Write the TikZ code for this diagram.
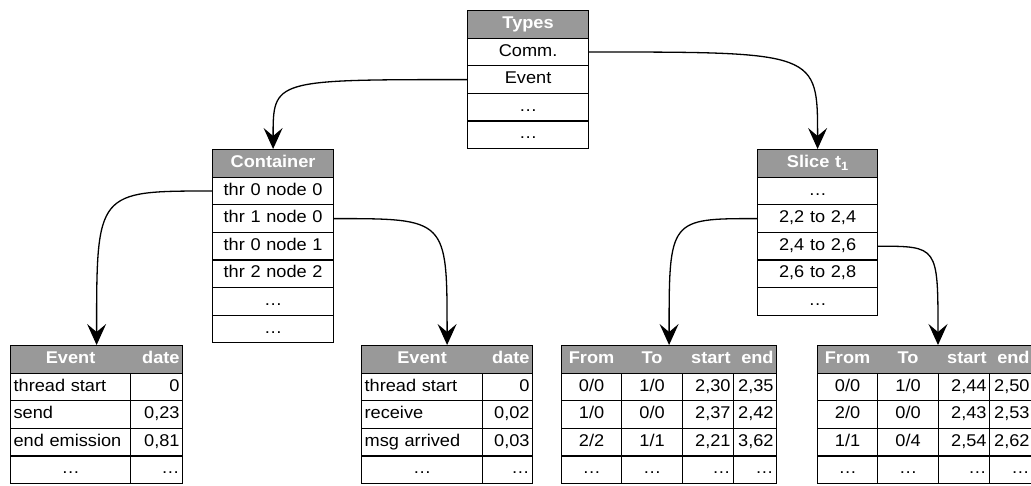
\documentclass[tikz,border=0pt]{standalone}
\usepackage{fontspec}
\setmainfont{Liberation Sans}[FakeStretch=1.07]
\usetikzlibrary{arrows.meta}
\definecolor{hdr}{RGB}{153,153,153}
\tikzset{
  base/.style={font=\fontsize{17}{20}\selectfont, text height=12pt, text depth=4pt,
    inner ysep=0pt, inner xsep=3pt, anchor=north west, line width=1.2pt, minimum height=27.6pt},
  cc/.style={base, draw=black, fill=white, align=center},
  cl/.style={base, draw=black, fill=white, align=left},
  cr/.style={base, draw=black, fill=white, align=right},
  hc/.style={base, draw=black, fill=hdr, text=white, align=center, font=\fontsize{17}{20}\selectfont\bfseries},
  htc/.style={base, text=white, align=center, font=\fontsize{17}{20}\selectfont\bfseries},
  htr/.style={base, text=white, align=right, font=\fontsize{17}{20}\selectfont\bfseries},
  conn/.style={line width=1.3pt, -{Stealth[length=21pt,width=19pt,inset=8pt]}},
}
% style, name, x, y, width, text
\newcommand\cellat[6]{\pgfmathsetmacro\mytw{#5-6}\node[#1, minimum width=#5pt, text width=\mytw pt] (#2) at (#3,#4) {#6};}
\begin{document}
\begin{tikzpicture}[x=1pt,y=-1pt]
\useasboundingbox (0,0) rectangle (1031,485);
\clip (0,0) rectangle (1031,485);
% Types
\cellat{hc}{ty0}{467}{10}{121}{Types}
\cellat{cc}{ty1}{467}{37.6}{121}{Comm.}
\cellat{cc}{ty2}{467}{65.2}{121}{Event}
\cellat{cc}{ty3}{467}{92.8}{121}{…}
\cellat{cc}{ty4}{467}{120.4}{121}{…}
% Container
\cellat{hc}{co0}{212}{149}{121}{Container}
\cellat{cc}{co1}{212}{176.6}{121}{thr 0 node 0}
\cellat{cc}{co2}{212}{204.2}{121}{thr 1 node 0}
\cellat{cc}{co3}{212}{231.8}{121}{thr 0 node 1}
\cellat{cc}{co4}{212}{259.4}{121}{thr 2 node 2}
\cellat{cc}{co5}{212}{287}{121}{…}
\cellat{cc}{co6}{212}{314.6}{121}{…}
% Slice
\cellat{hc}{sl0}{757}{149}{120}{Slice t\raisebox{-3.5pt}{\fontsize{12}{12}\selectfont 1}}
\cellat{cc}{sl1}{757}{176.6}{120}{…}
\cellat{cc}{sl2}{757}{204.2}{120}{2,2 to 2,4}
\cellat{cc}{sl3}{757}{231.8}{120}{2,4 to 2,6}
\cellat{cc}{sl4}{757}{259.4}{120}{2,6 to 2,8}
\cellat{cc}{sl5}{757}{287}{120}{…}
% Table A
\cellat{hc}{ta0}{10}{345}{172}{}
\cellat{htc}{ta01}{10}{345}{120}{Event}
\cellat{htr}{ta02}{130}{345}{52}{date}
\cellat{cl}{ta11}{10}{372.6}{120}{thread start}
\cellat{cr}{ta12}{130}{372.6}{52}{0}
\cellat{cl}{ta21}{10}{400.2}{120}{send}
\cellat{cr}{ta22}{130}{400.2}{52}{0,23}
\cellat{cl}{ta31}{10}{427.8}{120}{end emission}
\cellat{cr}{ta32}{130}{427.8}{52}{0,81}
\cellat{cc}{ta41}{10}{455.4}{120}{…}
\cellat{cr}{ta42}{130}{455.4}{52}{…}
% Table B
\cellat{hc}{tb0}{361}{345}{171}{}
\cellat{htc}{tb01}{361}{345}{121}{Event}
\cellat{htr}{tb02}{482}{345}{50}{date}
\cellat{cl}{tb11}{361}{372.6}{121}{thread start}
\cellat{cr}{tb12}{482}{372.6}{50}{0}
\cellat{cl}{tb21}{361}{400.2}{121}{receive}
\cellat{cr}{tb22}{482}{400.2}{50}{0,02}
\cellat{cl}{tb31}{361}{427.8}{121}{msg arrived}
\cellat{cr}{tb32}{482}{427.8}{50}{0,03}
\cellat{cc}{tb41}{361}{455.4}{121}{…}
\cellat{cr}{tb42}{482}{455.4}{50}{…}
% Table C
\cellat{hc}{tc0}{561}{345}{215}{}
\cellat{htc}{tc01}{561}{345}{60}{From}
\cellat{htc}{tc02}{621}{345}{61}{To}
\cellat{htr}{tc03}{682}{345}{51}{start}
\cellat{htr}{tc04}{733}{345}{43}{end}
\cellat{cc}{tc11}{561}{372.6}{60}{0/0}
\cellat{cc}{tc12}{621}{372.6}{61}{1/0}
\cellat{cr}{tc13}{682}{372.6}{51}{2,30}
\cellat{cr}{tc14}{733}{372.6}{43}{2,35}
\cellat{cc}{tc21}{561}{400.2}{60}{1/0}
\cellat{cc}{tc22}{621}{400.2}{61}{0/0}
\cellat{cr}{tc23}{682}{400.2}{51}{2,37}
\cellat{cr}{tc24}{733}{400.2}{43}{2,42}
\cellat{cc}{tc31}{561}{427.8}{60}{2/2}
\cellat{cc}{tc32}{621}{427.8}{61}{1/1}
\cellat{cr}{tc33}{682}{427.8}{51}{2,21}
\cellat{cr}{tc34}{733}{427.8}{43}{3,62}
\cellat{cc}{tc41}{561}{455.4}{60}{…}
\cellat{cc}{tc42}{621}{455.4}{61}{…}
\cellat{cr}{tc43}{682}{455.4}{51}{…}
\cellat{cr}{tc44}{733}{455.4}{43}{…}
% Table D
\cellat{hc}{td0}{817}{345}{215}{}
\cellat{htc}{td01}{817}{345}{60}{From}
\cellat{htc}{td02}{877}{345}{61}{To}
\cellat{htr}{td03}{938}{345}{51}{start}
\cellat{htr}{td04}{989}{345}{43}{end}
\cellat{cc}{td11}{817}{372.6}{60}{0/0}
\cellat{cc}{td12}{877}{372.6}{61}{1/0}
\cellat{cr}{td13}{938}{372.6}{51}{2,44}
\cellat{cr}{td14}{989}{372.6}{43}{2,50}
\cellat{cc}{td21}{817}{400.2}{60}{2/0}
\cellat{cc}{td22}{877}{400.2}{61}{0/0}
\cellat{cr}{td23}{938}{400.2}{51}{2,43}
\cellat{cr}{td24}{989}{400.2}{43}{2,53}
\cellat{cc}{td31}{817}{427.8}{60}{1/1}
\cellat{cc}{td32}{877}{427.8}{61}{0/4}
\cellat{cr}{td33}{938}{427.8}{51}{2,54}
\cellat{cr}{td34}{989}{427.8}{43}{2,62}
\cellat{cc}{td41}{817}{455.4}{60}{…}
\cellat{cc}{td42}{877}{455.4}{61}{…}
\cellat{cr}{td43}{938}{455.4}{51}{…}
\cellat{cr}{td44}{989}{455.4}{43}{…}
\coordinate (tdin) at (td0.north -| td13.west);
% connectors
\draw[conn] (ty2.west) .. controls (ty2.west -| co0.north) and (ty2.west -| co0.north) .. (co0.north);
\draw[conn] (ty1.east) .. controls (ty1.east -| sl0.north) and (ty1.east -| sl0.north) .. (sl0.north);
\draw[conn] (co1.west) .. controls (co1.west -| ta0.north) and (co1.west -| ta0.north) .. (ta0.north);
\draw[conn] (co2.east) .. controls (co2.east -| tb0.north) and (co2.east -| tb0.north) .. (tb0.north);
\draw[conn] (sl2.west) .. controls (sl2.west -| tc0.north) and (sl2.west -| tc0.north) .. (tc0.north);
\draw[conn] (sl3.east) .. controls (sl3.east -| tdin) and (sl3.east -| tdin) .. (tdin);
\end{tikzpicture}
\end{document}
